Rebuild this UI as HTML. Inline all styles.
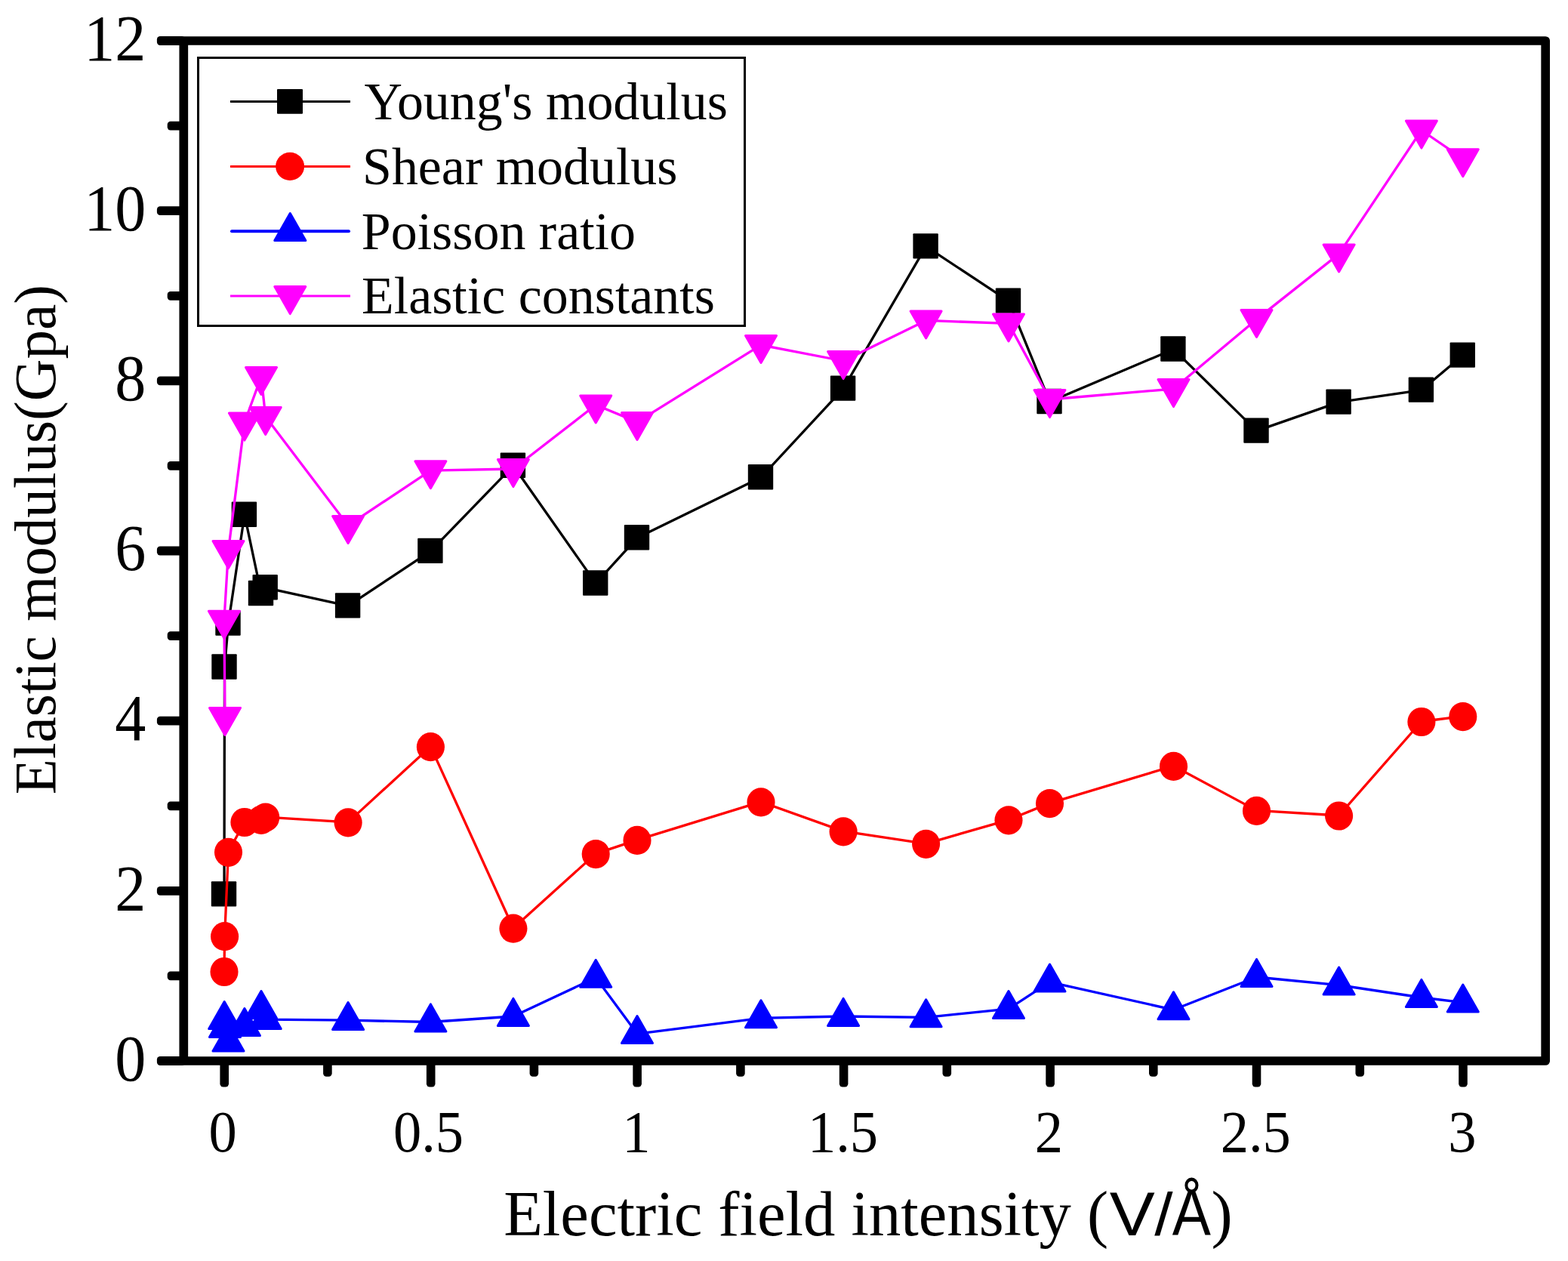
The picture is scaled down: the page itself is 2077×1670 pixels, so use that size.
<!DOCTYPE html>
<html lang="en">
<head>
<meta charset="utf-8">
<title>Elastic modulus vs electric field intensity</title>
<style>
html,body{margin:0;padding:0;background:#fff;}
body{width:2077px;height:1670px;overflow:hidden;}
svg{display:block;}
text{font-family:"Liberation Serif","Times New Roman",serif;fill:#000;}
.sans{font-family:"Liberation Sans",Arial,sans-serif;}
</style>
</head>
<body>
<svg width="2077" height="1670" viewBox="0 0 2077 1670">
<rect x="0" y="0" width="2077" height="1670" fill="#fff"/>
<g>
<polyline points="297.0,1184.4 297.5,883.5 302.5,825.5 323.9,681.7 346.0,786.0 351.7,778.3 461.1,802.4 570.4,729.9 679.9,616.8 789.2,772.5 844.0,712.3 1008.0,632.3 1117.1,514.6 1226.6,326.4 1336.0,398.6 1390.5,532.0 1554.5,462.5 1664.5,570.6 1773.6,532.6 1882.9,516.6 1937.8,470.6" fill="none" stroke="#000" stroke-width="3.3" stroke-linejoin="round"/>
<rect x="279.8" y="1167.2" width="33.4" height="33.4" rx="1" fill="#000"/><rect x="280.3" y="866.3" width="33.4" height="33.4" rx="1" fill="#000"/><rect x="285.3" y="808.3" width="33.4" height="33.4" rx="1" fill="#000"/><rect x="306.7" y="664.5" width="33.4" height="33.4" rx="1" fill="#000"/><rect x="328.8" y="768.8" width="33.4" height="33.4" rx="1" fill="#000"/><rect x="334.5" y="761.1" width="33.4" height="33.4" rx="1" fill="#000"/><rect x="443.9" y="785.2" width="33.4" height="33.4" rx="1" fill="#000"/><rect x="553.2" y="712.7" width="33.4" height="33.4" rx="1" fill="#000"/><rect x="662.7" y="599.6" width="33.4" height="33.4" rx="1" fill="#000"/><rect x="772.0" y="755.3" width="33.4" height="33.4" rx="1" fill="#000"/><rect x="826.8" y="695.1" width="33.4" height="33.4" rx="1" fill="#000"/><rect x="990.8" y="615.1" width="33.4" height="33.4" rx="1" fill="#000"/><rect x="1099.9" y="497.4" width="33.4" height="33.4" rx="1" fill="#000"/><rect x="1209.4" y="309.2" width="33.4" height="33.4" rx="1" fill="#000"/><rect x="1318.8" y="381.4" width="33.4" height="33.4" rx="1" fill="#000"/><rect x="1373.3" y="514.8" width="33.4" height="33.4" rx="1" fill="#000"/><rect x="1537.2" y="445.3" width="33.4" height="33.4" rx="1" fill="#000"/><rect x="1647.3" y="553.4" width="33.4" height="33.4" rx="1" fill="#000"/><rect x="1756.4" y="515.4" width="33.4" height="33.4" rx="1" fill="#000"/><rect x="1865.7" y="499.4" width="33.4" height="33.4" rx="1" fill="#000"/><rect x="1920.6" y="453.4" width="33.4" height="33.4" rx="1" fill="#000"/>
<polyline points="297.0,1286.5 297.6,1239.7 302.5,1128.3 323.9,1088.5 346.0,1085.3 351.7,1082.1 461.1,1088.9 570.4,988.7 679.9,1229.2 789.2,1130.6 844.0,1112.4 1008.0,1061.9 1117.1,1100.9 1226.6,1117.3 1336.0,1085.8 1390.5,1063.6 1554.5,1014.4 1664.5,1073.4 1773.6,1080.0 1882.9,955.5 1937.8,948.6" fill="none" stroke="#f00" stroke-width="3.3" stroke-linejoin="round"/>
<ellipse cx="297.0" cy="1287.0" rx="18.55" ry="19.1" fill="#f00"/><ellipse cx="297.6" cy="1240.2" rx="18.55" ry="19.1" fill="#f00"/><ellipse cx="302.5" cy="1128.8" rx="18.55" ry="19.1" fill="#f00"/><ellipse cx="323.9" cy="1089.0" rx="18.55" ry="19.1" fill="#f00"/><ellipse cx="346.0" cy="1085.8" rx="18.55" ry="19.1" fill="#f00"/><ellipse cx="351.7" cy="1082.6" rx="18.55" ry="19.1" fill="#f00"/><ellipse cx="461.1" cy="1089.4" rx="18.55" ry="19.1" fill="#f00"/><ellipse cx="570.4" cy="989.2" rx="18.55" ry="19.1" fill="#f00"/><ellipse cx="679.9" cy="1229.7" rx="18.55" ry="19.1" fill="#f00"/><ellipse cx="789.2" cy="1131.1" rx="18.55" ry="19.1" fill="#f00"/><ellipse cx="844.0" cy="1112.9" rx="18.55" ry="19.1" fill="#f00"/><ellipse cx="1008.0" cy="1062.4" rx="18.55" ry="19.1" fill="#f00"/><ellipse cx="1117.1" cy="1101.4" rx="18.55" ry="19.1" fill="#f00"/><ellipse cx="1226.6" cy="1117.8" rx="18.55" ry="19.1" fill="#f00"/><ellipse cx="1336.0" cy="1086.3" rx="18.55" ry="19.1" fill="#f00"/><ellipse cx="1390.5" cy="1064.1" rx="18.55" ry="19.1" fill="#f00"/><ellipse cx="1554.5" cy="1014.9" rx="18.55" ry="19.1" fill="#f00"/><ellipse cx="1664.5" cy="1073.9" rx="18.55" ry="19.1" fill="#f00"/><ellipse cx="1773.6" cy="1080.5" rx="18.55" ry="19.1" fill="#f00"/><ellipse cx="1882.9" cy="956.0" rx="18.55" ry="19.1" fill="#f00"/><ellipse cx="1937.8" cy="949.1" rx="18.55" ry="19.1" fill="#f00"/>
<polyline points="297.2,1350.2 298.0,1361.2 302.5,1379.5 323.9,1359.2 346.0,1336.2 351.7,1350.2 461.1,1351.2 570.4,1353.5 679.9,1346.0 789.2,1294.8 844.0,1369.1 1008.0,1348.3 1117.1,1346.0 1226.6,1347.4 1336.0,1336.1 1390.5,1300.6 1554.5,1337.3 1664.5,1294.0 1773.6,1304.6 1882.9,1321.0 1937.8,1327.6" fill="none" stroke="#00f" stroke-width="3.3" stroke-linejoin="round"/>
<polygon points="297.2,1326.6 317.7,1362.6 276.7,1362.6" fill="#00f" stroke="#00f" stroke-width="3.0" stroke-linejoin="round"/><polygon points="298.0,1337.6 318.5,1373.6 277.5,1373.6" fill="#00f" stroke="#00f" stroke-width="3.0" stroke-linejoin="round"/><polygon points="302.5,1355.9 323.0,1391.9 282.0,1391.9" fill="#00f" stroke="#00f" stroke-width="3.0" stroke-linejoin="round"/><polygon points="323.9,1335.6 344.4,1371.6 303.4,1371.6" fill="#00f" stroke="#00f" stroke-width="3.0" stroke-linejoin="round"/><polygon points="346.0,1312.6 366.5,1348.6 325.5,1348.6" fill="#00f" stroke="#00f" stroke-width="3.0" stroke-linejoin="round"/><polygon points="351.7,1326.6 372.2,1362.6 331.2,1362.6" fill="#00f" stroke="#00f" stroke-width="3.0" stroke-linejoin="round"/><polygon points="461.1,1327.6 481.6,1363.6 440.6,1363.6" fill="#00f" stroke="#00f" stroke-width="3.0" stroke-linejoin="round"/><polygon points="570.4,1329.9 590.9,1365.9 549.9,1365.9" fill="#00f" stroke="#00f" stroke-width="3.0" stroke-linejoin="round"/><polygon points="679.9,1322.4 700.4,1358.4 659.4,1358.4" fill="#00f" stroke="#00f" stroke-width="3.0" stroke-linejoin="round"/><polygon points="789.2,1271.2 809.7,1307.2 768.7,1307.2" fill="#00f" stroke="#00f" stroke-width="3.0" stroke-linejoin="round"/><polygon points="844.0,1345.5 864.5,1381.5 823.5,1381.5" fill="#00f" stroke="#00f" stroke-width="3.0" stroke-linejoin="round"/><polygon points="1008.0,1324.7 1028.5,1360.7 987.5,1360.7" fill="#00f" stroke="#00f" stroke-width="3.0" stroke-linejoin="round"/><polygon points="1117.1,1322.4 1137.6,1358.4 1096.6,1358.4" fill="#00f" stroke="#00f" stroke-width="3.0" stroke-linejoin="round"/><polygon points="1226.6,1323.8 1247.1,1359.8 1206.1,1359.8" fill="#00f" stroke="#00f" stroke-width="3.0" stroke-linejoin="round"/><polygon points="1336.0,1312.5 1356.5,1348.5 1315.5,1348.5" fill="#00f" stroke="#00f" stroke-width="3.0" stroke-linejoin="round"/><polygon points="1390.5,1277.0 1411.0,1313.0 1370.0,1313.0" fill="#00f" stroke="#00f" stroke-width="3.0" stroke-linejoin="round"/><polygon points="1554.5,1313.7 1575.0,1349.7 1534.0,1349.7" fill="#00f" stroke="#00f" stroke-width="3.0" stroke-linejoin="round"/><polygon points="1664.5,1270.4 1685.0,1306.4 1644.0,1306.4" fill="#00f" stroke="#00f" stroke-width="3.0" stroke-linejoin="round"/><polygon points="1773.6,1281.0 1794.1,1317.0 1753.1,1317.0" fill="#00f" stroke="#00f" stroke-width="3.0" stroke-linejoin="round"/><polygon points="1882.9,1297.4 1903.4,1333.4 1862.4,1333.4" fill="#00f" stroke="#00f" stroke-width="3.0" stroke-linejoin="round"/><polygon points="1937.8,1304.0 1958.3,1340.0 1917.3,1340.0" fill="#00f" stroke="#00f" stroke-width="3.0" stroke-linejoin="round"/>
<polyline points="298.0,949.8 296.9,821.7 302.5,729.0 323.9,559.5 346.0,498.9 351.7,551.8 461.1,695.9 570.4,623.1 679.9,621.0 789.2,536.3 844.0,558.9 1008.0,456.9 1117.1,478.0 1226.6,424.4 1336.0,428.4 1390.5,529.0 1554.5,515.0 1664.5,422.9 1773.6,336.4 1882.9,172.5 1937.8,210.1" fill="none" stroke="#f0f" stroke-width="3.3" stroke-linejoin="round"/>
<polygon points="298.0,973.4 318.5,937.4 277.5,937.4" fill="#f0f" stroke="#f0f" stroke-width="3.0" stroke-linejoin="round"/><polygon points="296.9,845.3 317.4,809.3 276.4,809.3" fill="#f0f" stroke="#f0f" stroke-width="3.0" stroke-linejoin="round"/><polygon points="302.5,752.6 323.0,716.6 282.0,716.6" fill="#f0f" stroke="#f0f" stroke-width="3.0" stroke-linejoin="round"/><polygon points="323.9,583.1 344.4,547.1 303.4,547.1" fill="#f0f" stroke="#f0f" stroke-width="3.0" stroke-linejoin="round"/><polygon points="346.0,522.5 366.5,486.5 325.5,486.5" fill="#f0f" stroke="#f0f" stroke-width="3.0" stroke-linejoin="round"/><polygon points="351.7,575.4 372.2,539.4 331.2,539.4" fill="#f0f" stroke="#f0f" stroke-width="3.0" stroke-linejoin="round"/><polygon points="461.1,719.5 481.6,683.5 440.6,683.5" fill="#f0f" stroke="#f0f" stroke-width="3.0" stroke-linejoin="round"/><polygon points="570.4,646.7 590.9,610.7 549.9,610.7" fill="#f0f" stroke="#f0f" stroke-width="3.0" stroke-linejoin="round"/><polygon points="679.9,644.6 700.4,608.6 659.4,608.6" fill="#f0f" stroke="#f0f" stroke-width="3.0" stroke-linejoin="round"/><polygon points="789.2,559.9 809.7,523.9 768.7,523.9" fill="#f0f" stroke="#f0f" stroke-width="3.0" stroke-linejoin="round"/><polygon points="844.0,582.5 864.5,546.5 823.5,546.5" fill="#f0f" stroke="#f0f" stroke-width="3.0" stroke-linejoin="round"/><polygon points="1008.0,480.5 1028.5,444.5 987.5,444.5" fill="#f0f" stroke="#f0f" stroke-width="3.0" stroke-linejoin="round"/><polygon points="1117.1,501.6 1137.6,465.6 1096.6,465.6" fill="#f0f" stroke="#f0f" stroke-width="3.0" stroke-linejoin="round"/><polygon points="1226.6,448.0 1247.1,412.0 1206.1,412.0" fill="#f0f" stroke="#f0f" stroke-width="3.0" stroke-linejoin="round"/><polygon points="1336.0,452.0 1356.5,416.0 1315.5,416.0" fill="#f0f" stroke="#f0f" stroke-width="3.0" stroke-linejoin="round"/><polygon points="1390.5,552.6 1411.0,516.6 1370.0,516.6" fill="#f0f" stroke="#f0f" stroke-width="3.0" stroke-linejoin="round"/><polygon points="1554.5,538.6 1575.0,502.6 1534.0,502.6" fill="#f0f" stroke="#f0f" stroke-width="3.0" stroke-linejoin="round"/><polygon points="1664.5,446.5 1685.0,410.5 1644.0,410.5" fill="#f0f" stroke="#f0f" stroke-width="3.0" stroke-linejoin="round"/><polygon points="1773.6,360.0 1794.1,324.0 1753.1,324.0" fill="#f0f" stroke="#f0f" stroke-width="3.0" stroke-linejoin="round"/><polygon points="1882.9,196.1 1903.4,160.1 1862.4,160.1" fill="#f0f" stroke="#f0f" stroke-width="3.0" stroke-linejoin="round"/><polygon points="1937.8,233.7 1958.3,197.7 1917.3,197.7" fill="#f0f" stroke="#f0f" stroke-width="3.0" stroke-linejoin="round"/>
</g>
<rect x="243.3" y="54.0" width="1803.9" height="1351.0" fill="none" stroke="#000" stroke-width="11.7" stroke-linejoin="round"/>
<g fill="#000">
<rect x="207.9" y="1399.1" width="37.4" height="11.8" rx="4.2"/>
<rect x="221.7" y="1286.5" width="23.6" height="11.8" rx="4.2"/>
<rect x="207.9" y="1173.9" width="37.4" height="11.8" rx="4.2"/>
<rect x="221.7" y="1061.4" width="23.6" height="11.8" rx="4.2"/>
<rect x="207.9" y="948.8" width="37.4" height="11.8" rx="4.2"/>
<rect x="221.7" y="836.2" width="23.6" height="11.8" rx="4.2"/>
<rect x="207.9" y="723.6" width="37.4" height="11.8" rx="4.2"/>
<rect x="221.7" y="611.0" width="23.6" height="11.8" rx="4.2"/>
<rect x="207.9" y="498.5" width="37.4" height="11.8" rx="4.2"/>
<rect x="221.7" y="385.9" width="23.6" height="11.8" rx="4.2"/>
<rect x="207.9" y="273.3" width="37.4" height="11.8" rx="4.2"/>
<rect x="221.7" y="160.7" width="23.6" height="11.8" rx="4.2"/>
<rect x="207.9" y="48.1" width="37.4" height="11.8" rx="4.2"/>
<rect x="291.4" y="1403.0" width="11.6" height="36.5" rx="4.2"/>
<rect x="428.1" y="1403.0" width="11.6" height="22.7" rx="4.2"/>
<rect x="564.9" y="1403.0" width="11.6" height="36.5" rx="4.2"/>
<rect x="701.6" y="1403.0" width="11.6" height="22.7" rx="4.2"/>
<rect x="838.3" y="1403.0" width="11.6" height="36.5" rx="4.2"/>
<rect x="975.1" y="1403.0" width="11.6" height="22.7" rx="4.2"/>
<rect x="1111.8" y="1403.0" width="11.6" height="36.5" rx="4.2"/>
<rect x="1248.5" y="1403.0" width="11.6" height="22.7" rx="4.2"/>
<rect x="1385.3" y="1403.0" width="11.6" height="36.5" rx="4.2"/>
<rect x="1522.0" y="1403.0" width="11.6" height="22.7" rx="4.2"/>
<rect x="1658.7" y="1403.0" width="11.6" height="36.5" rx="4.2"/>
<rect x="1795.5" y="1403.0" width="11.6" height="22.7" rx="4.2"/>
<rect x="1932.2" y="1403.0" width="11.6" height="36.5" rx="4.2"/>
</g>
<g font-size="86.7" text-anchor="end">
<text transform="translate(193.3,1430.7) scale(0.947,1)">0</text>
<text transform="translate(193.3,1205.5) scale(0.947,1)">2</text>
<text transform="translate(193.3,980.4) scale(0.947,1)">4</text>
<text transform="translate(193.3,755.2) scale(0.947,1)">6</text>
<text transform="translate(193.3,530.1) scale(0.947,1)">8</text>
<text transform="translate(193.3,304.9) scale(0.947,1)">10</text>
<text transform="translate(193.3,79.7) scale(0.947,1)">12</text>
</g>
<g font-size="77.2" text-anchor="middle">
<text transform="translate(295.2,1525.2) scale(0.965,1)">0</text>
<text transform="translate(567.5,1525.2) scale(0.965,1)">0.5</text>
<text transform="translate(843.0,1525.2) scale(0.965,1)">1</text>
<text transform="translate(1116.5,1525.2) scale(0.965,1)">1.5</text>
<text transform="translate(1389.5,1525.2) scale(0.965,1)">2</text>
<text transform="translate(1663.3,1525.2) scale(0.965,1)">2.5</text>
<text transform="translate(1937.0,1525.2) scale(0.965,1)">3</text>
</g>
<g font-size="84.6">
<text x="667.2" y="1635.8">Electric field intensity (</text>
<text class="sans" font-size="81.6" transform="translate(1469.7,1636) scale(1.104,1)">V</text>
<text class="sans" font-size="80.3" transform="translate(1529.2,1636) scale(1.09,1)">/</text>
<text class="sans" font-size="87.7" transform="translate(1552.8,1636) scale(0.874,1)">Å</text>
<text x="1604.4" y="1635.8">)</text>
</g>
<text transform="translate(73,1052.2) rotate(-90)" font-size="77.2">Elastic modulus(Gpa)</text>
<rect x="262.8" y="76.5" width="723.7" height="355" fill="#fff" stroke="#000" stroke-width="3" shape-rendering="crispEdges"/>
<g>
<line x1="305" y1="134.5" x2="464" y2="134.5" stroke="#000" stroke-width="3"/>
<rect x="367" y="118" width="34" height="32.8" rx="1" fill="#000"/>
<line x1="305" y1="220.5" x2="464" y2="220.5" stroke="#f00" stroke-width="3"/>
<ellipse cx="384.1" cy="220.4" rx="19" ry="18.6" fill="#f00"/>
<line x1="307" y1="306.2" x2="462" y2="306.2" stroke="#00f" stroke-width="4" stroke-linecap="round"/>
<polygon points="384.3,282.6 404.8,318.6 363.8,318.6" fill="#00f" stroke="#00f" stroke-width="3.0" stroke-linejoin="round"/>
<line x1="305" y1="392.0" x2="464" y2="392.0" stroke="#f0f" stroke-width="3"/>
<polygon points="384.3,415.6 404.8,379.6 363.8,379.6" fill="#f0f" stroke="#f0f" stroke-width="3.0" stroke-linejoin="round"/>
</g>
<g font-size="69.1">
<text transform="translate(482.4,157.6) scale(1.012,1)">Young's modulus</text>
<text transform="translate(480.0,243.6) scale(1.012,1)">Shear modulus</text>
<text transform="translate(478.8,329.5) scale(1.012,1)">Poisson ratio</text>
<text transform="translate(479.0,414.7) scale(1.012,1)">Elastic constants</text>
</g>
</svg>
</body>
</html>
